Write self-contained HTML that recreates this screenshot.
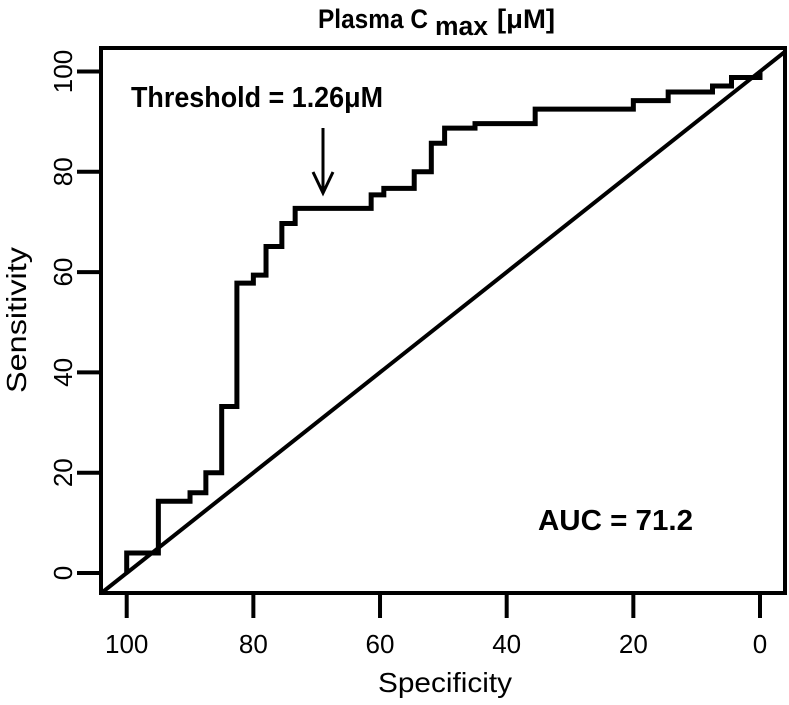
<!DOCTYPE html>
<html><head><meta charset="utf-8"><style>
html,body{margin:0;padding:0;background:#fff;}
svg{display:block;}
text{font-family:"Liberation Sans",Arial,sans-serif;fill:#000;}
</style></head><body>
<svg id="chart" width="789" height="705" viewBox="0 0 789 705" xmlns="http://www.w3.org/2000/svg">
<g>
<text x="318" y="28" font-size="27" font-weight="bold" textLength="110" lengthAdjust="spacingAndGlyphs">Plasma C</text>
<text x="435" y="35" font-size="27" font-weight="bold" textLength="53" lengthAdjust="spacingAndGlyphs">max</text>
<text x="497" y="28" font-size="27" font-weight="bold" textLength="58" lengthAdjust="spacingAndGlyphs">[μM]</text>
</g>
<rect x="101" y="48" width="684" height="545" fill="none" stroke="#000" stroke-width="4"/>
<g id="xticks"></g>
<g id="yticks"></g>
<text x="445" y="692" font-size="28" text-anchor="middle" textLength="134" lengthAdjust="spacingAndGlyphs">Specificity</text>
<text transform="translate(26,320) rotate(-90)" font-size="28" text-anchor="middle" textLength="146" lengthAdjust="spacingAndGlyphs">Sensitivity</text>
<clipPath id="clip"><rect x="101" y="48" width="684" height="545"/></clipPath>
<line id="diag" stroke="#000" stroke-width="4" clip-path="url(#clip)"/>
<path id="roc" fill="none" stroke="#000" stroke-width="5" stroke-linejoin="miter"/>
<text x="131" y="107" font-size="29" font-weight="bold" textLength="252" lengthAdjust="spacingAndGlyphs">Threshold = 1.26μM</text>
<g>
<line x1="323" y1="128" x2="323" y2="190" stroke="#000" stroke-width="3"/>
<polyline points="313,172 323,193 333,172" fill="none" stroke="#000" stroke-width="3"/>
</g>
<text x="538" y="530" font-size="29" font-weight="bold" textLength="155" lengthAdjust="spacingAndGlyphs">AUC = 71.2</text>
</svg>
<script>
const specificity = [100,95,90,87.5,85,82.6,80,78,75.5,73.4,61.4,59.4,54.6,51.9,49.8,45,35.5,20,14.5,7.5,4.5,0];
const sensitivity = [4,14.3,16,20,33.2,57.8,59.4,65.1,69.7,72.7,75.4,76.7,80,85.7,88.7,89.6,92.5,94.2,95.9,97.1,98.8,100];
const xTickLabels = [100,80,60,40,20,0];
const yTickLabels = [0,20,40,60,80,100];
const NS = "http://www.w3.org/2000/svg";
function xs(v){ return 760 - v*6.333; }
function ys(v){ return 573 - v*5.015; }
const xg = document.getElementById('xticks');
xTickLabels.forEach(v=>{
  const l=document.createElementNS(NS,'line');
  l.setAttribute('x1',xs(v));l.setAttribute('x2',xs(v));l.setAttribute('y1',593);l.setAttribute('y2',618);
  l.setAttribute('stroke','#000');l.setAttribute('stroke-width','4');
  
  
  xg.appendChild(l);
  const t=document.createElementNS(NS,'text');
  t.setAttribute('x',xs(v));t.setAttribute('y',653);t.setAttribute('font-size','26');t.setAttribute('text-anchor','middle');
  t.textContent=v;
  
  
  xg.appendChild(t);
});
const yg = document.getElementById('yticks');
yTickLabels.forEach(v=>{
  const l=document.createElementNS(NS,'line');
  l.setAttribute('x1',77);l.setAttribute('x2',101);l.setAttribute('y1',ys(v));l.setAttribute('y2',ys(v));
  l.setAttribute('stroke','#000');l.setAttribute('stroke-width','4');
  
  
  yg.appendChild(l);
  const t=document.createElementNS(NS,'text');
  t.setAttribute('transform','translate(72,'+ys(v)+') rotate(-90)');t.setAttribute('font-size','26');t.setAttribute('text-anchor','middle');
  t.textContent=v;
  
  
  yg.appendChild(t);
});
const d = document.getElementById('diag');
d.setAttribute('x1',xs(110));d.setAttribute('y1',ys(-10));d.setAttribute('x2',xs(-10));d.setAttribute('y2',ys(110));
let p = 'M'+xs(100)+','+ys(0);
for(let i=0;i<specificity.length;i++){
  p += ' L'+xs(specificity[i])+','+ys(sensitivity[i]);
  if(i+1<specificity.length) p += ' L'+xs(specificity[i+1])+','+ys(sensitivity[i]);
}
document.getElementById('roc').setAttribute('d',p);
</script>
</body></html>
